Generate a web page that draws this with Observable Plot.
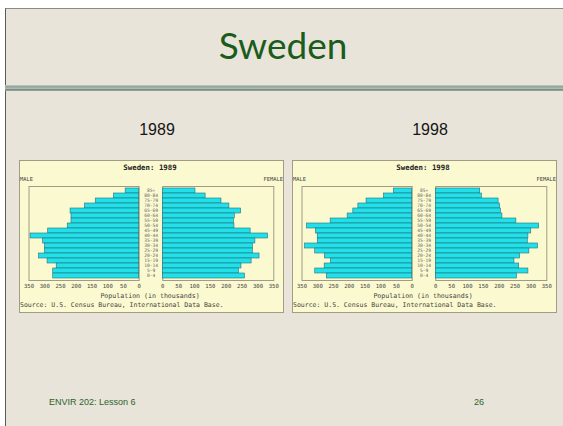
<!DOCTYPE html>
<html><head><meta charset="utf-8">
<script src="https://cdn.jsdelivr.net/npm/d3@7"></script>
<script src="https://cdn.jsdelivr.net/npm/@observablehq/plot@0.6"></script>
<style>
html,body{margin:0;padding:0;background:#ffffff;width:563px;height:426px;overflow:hidden;position:relative}
.abs{position:absolute;white-space:nowrap;line-height:1}
svg{display:block}
</style></head>
<body>
<script>
// ---- data (thousands), age groups listed from the top of the pyramid down ----
const ages = ["85+","80-84","75-79","70-74","65-69","60-64","55-59","50-54","45-49","40-44","35-39","30-34","25-29","20-24","15-19","10-14","5-9","0-4"];
const male1989   = [43, 80,138,172,218,215,215,227,289,345,305,299,299,318,291,262,273,273];
const female1989 = [103,135,185,210,247,227,224,226,277,332,292,284,284,305,280,248,240,259];
const male1998   = [58, 90,145,171,187,205,259,334,306,300,300,340,308,277,258,278,308,271];
const female1998 = [140,145,198,203,205,210,254,326,301,292,290,322,295,266,248,263,292,256];
const xTicks = [0,50,100,150,200,250,300,350];
const years = ["1989","1998"];

const body = document.body;
function addText(t, x, y, o = {}) {
  const d = document.createElement("div");
  d.className = "abs";
  d.textContent = t;
  const size = o.size || 10;
  d.style.left = x + "px";
  d.style.top = (y - size / 2) + "px";
  d.style.fontSize = size + "px";
  d.style.fontFamily = o.font || "'Liberation Sans', Arial, sans-serif";
  d.style.color = o.color || "#111";
  d.style.fontWeight = o.weight || "normal";
  if (o.anchor === "middle") d.style.transform = "translateX(-50%)";
  if (o.anchor === "end") d.style.transform = "translateX(-100%)";
  body.appendChild(d);
  return d;
}
function addBox(x, y, w, h, css) {
  const d = document.createElement("div");
  d.style.position = "absolute";
  d.style.left = x + "px"; d.style.top = y + "px";
  d.style.width = w + "px"; d.style.height = h + "px";
  Object.assign(d.style, css);
  body.appendChild(d);
  return d;
}
function place(node, x, y) {
  node.style.position = "absolute";
  node.style.left = x + "px";
  node.style.top = y + "px";
  body.appendChild(node);
}

// ---- slide ----
addBox(5, 8, 558, 418, {background: "#e9e4da", borderLeft: "1.5px solid #5a5a5a", borderTop: "1px solid #8a8a8a", boxSizing: "border-box"});
addBox(5, 85, 558, 6, {background: "linear-gradient(to bottom, #c9d1c9 0%, #8c9d92 30%, #b7c3ba 55%, #6f8377 80%, #a9b4ab 100%)"});
addText("Sweden", 283, 44, {size: 37, font: "Lato, 'Noto Sans', sans-serif", color: "#1b5c1c", anchor: "middle"});
addText("ENVIR 202: Lesson 6", 49, 402, {size: 9, color: "#2a632a"});
addText("26", 474, 402, {size: 9, color: "#2a632a"});

const mono = "'DejaVu Sans Mono', 'Liberation Mono', monospace";
const barFill = "#22e0ea", barStroke = "#27707a";

function pyramid(ox, year, male, female) {
  const rows = ages.map((a, i) => ({age: a, male: male[i], female: female[i]}));
  addText(year, ox + 157, 130, {size: 16, color: "#151515", anchor: "middle"});
  addBox(ox + 19, 160, 265, 153, {background: "#fbf9d0", border: "1px solid #a39c84", boxSizing: "border-box"});
  addText("Sweden: " + year, ox + 150, 168, {size: 7.4, font: mono, weight: "bold", color: "#222", anchor: "middle"});
  addText("MALE", ox + 20, 180, {size: 5.4, font: mono, color: "#444"});
  addText("FEMALE", ox + 283, 180, {size: 5.4, font: mono, color: "#444", anchor: "end"});

  const common = {
    height: 110, marginTop: 3, marginBottom: 13,
    style: {background: "transparent", fontFamily: mono, fontSize: "5.6px", color: "#444", overflow: "visible"},
    y: {domain: ages, padding: 0.1, axis: null}
  };
  const maleSvg = Plot.plot({
    ...common, width: 126, marginLeft: 14.5, marginRight: 1.3,
    x: {domain: [0, 350], reverse: true, label: null},
    marks: [
      Plot.frame({stroke: "#a09a86", strokeWidth: 1}),
      Plot.barX(rows, {x: "male", y: "age", fill: barFill, stroke: barStroke, strokeWidth: 0.6}),
      Plot.axisX(xTicks, {tickSize: 0, tickPadding: 3.5, fontSize: 5.6, fill: "#444", label: null})
    ]
  });
  place(maleSvg, ox + 14, 183);
  const femaleSvg = Plot.plot({
    ...common, width: 143, marginLeft: 23.3, marginRight: 8.7,
    x: {domain: [0, 350], label: null},
    marks: [
      Plot.frame({stroke: "#a09a86", strokeWidth: 1}),
      Plot.barX(rows, {x: "female", y: "age", fill: barFill, stroke: barStroke, strokeWidth: 0.6}),
      Plot.text(rows, {x: 0, y: "age", text: "age", dx: -11.7, textAnchor: "middle", fontSize: 4.6, fill: "#666"}),
      Plot.axisX(xTicks, {tickSize: 0, tickPadding: 3.5, fontSize: 5.6, fill: "#444", label: null})
    ]
  });
  place(femaleSvg, ox + 139, 183);
  addText("Population (in thousands)", ox + 150, 296, {size: 6.6, font: mono, color: "#444", anchor: "middle"});
  addText("Source: U.S. Census Bureau, International Data Base.", ox + 20, 305, {size: 6.5, font: mono, color: "#444"});
}

pyramid(0, years[0], male1989, female1989);
pyramid(273, years[1], male1998, female1998);
</script>
</body></html>
